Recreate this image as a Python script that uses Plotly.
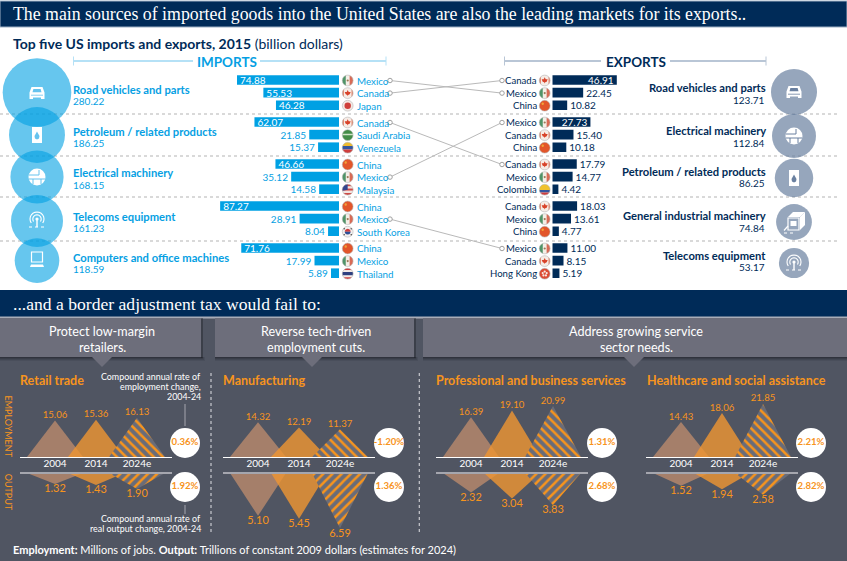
import math
import plotly.graph_objects as go

W, H = 847, 561
SANS = "Lato"
SERIF = "Liberation Serif"
NAVY = "#002b58"
SKY = "#069fe3"
ORANGE = "#f7941d"
SLATE = "#6a80a0"

# ---------- data ----------
IMPORT_CATEGORIES = ["Road vehicles and parts", "Petroleum / related products", "Electrical machinery",
                     "Telecoms equipment", "Computers and office machines"]
IMPORT_TOTALS = [280.22, 186.25, 168.15, 161.23, 118.59]
IMPORT_COUNTRIES = [["Mexico", "Canada", "Japan"], ["Canada", "Saudi Arabia", "Venezuela"],
                    ["China", "Mexico", "Malaysia"], ["China", "Mexico", "South Korea"],
                    ["China", "Mexico", "Thailand"]]
IMPORT_VALUES = [[74.88, 55.53, 46.28], [62.07, 21.85, 15.37], [46.66, 35.12, 14.58],
                 [87.27, 28.91, 8.04], [71.76, 17.99, 5.89]]

EXPORT_CATEGORIES = ["Road vehicles and parts", "Electrical machinery", "Petroleum / related products",
                     "General industrial machinery", "Telecoms equipment"]
EXPORT_TOTALS = [123.71, 112.84, 86.25, 74.84, 53.17]
EXPORT_COUNTRIES = [["Canada", "Mexico", "China"], ["Mexico", "Canada", "China"],
                    ["Canada", "Mexico", "Colombia"], ["Canada", "Mexico", "China"],
                    ["Mexico", "Canada", "Hong Kong"]]
EXPORT_VALUES = [[46.91, 22.45, 10.82], [27.73, 15.40, 10.18], [17.79, 14.77, 4.42],
                 [18.03, 13.61, 4.77], [11.00, 8.15, 5.19]]

# (import group, row) -> (export group, row)
LINKS = [((0, 0), (0, 1)), ((0, 1), (0, 0)), ((1, 0), (2, 0)), ((2, 1), (1, 0)), ((3, 1), (4, 0))]

YEARS = ["2004", "2014", "2024e"]
SECTORS = ["Retail trade", "Manufacturing", "Professional and business services", "Healthcare and social assistance"]
EMPLOYMENT = [[15.06, 15.36, 16.13], [14.32, 12.19, 11.37], [16.39, 19.10, 20.99], [14.43, 18.06, 21.85]]
OUTPUT = [[1.32, 1.43, 1.90], [5.10, 5.45, 6.59], [2.32, 3.04, 3.83], [1.52, 1.94, 2.58]]
EMP_RATE = ["0.36%", "-1.20%", "1.31%", "2.21%"]
OUT_RATE = ["1.92%", "1.36%", "2.68%", "2.82%"]

# ---------- layout helpers ----------
annotations, shapes, traces = [], [], []


def px(x):
    return x / W


def py(y):
    return 1 - y / H


def txt(x, y, s, size=11, color="white", anchor="left", family=SANS, angle=0):
    annotations.append(dict(x=px(x), y=py(y), xref="paper", yref="paper", text=s, showarrow=False,
                            xanchor=anchor, yanchor="middle", align=anchor, borderpad=0, borderwidth=0,
                            textangle=angle, font=dict(family=family, size=size, color=color)))


def rect(x0, y0, x1, y1, fill, line=None, layer="below"):
    shapes.append(dict(type="rect", xref="paper", yref="paper", x0=px(x0), x1=px(x1), y0=py(y0), y1=py(y1),
                       fillcolor=fill, line=dict(width=1 if line else 0, color=line or fill), layer=layer))


def seg(x0, y0, x1, y1, color, width=1, dash=None, layer="above"):
    shapes.append(dict(type="line", xref="paper", yref="paper", x0=px(x0), x1=px(x1), y0=py(y0), y1=py(y1),
                       line=dict(color=color, width=width, dash=dash), layer=layer))


def poly(pts, fill, line=None, lw=1, close=True, layer="above"):
    p = "M" + "L".join(f"{px(a):.5f},{py(b):.5f}" for a, b in pts) + ("Z" if close else "")
    shapes.append(dict(type="path", xref="paper", yref="paper", path=p, fillcolor=fill,
                       line=dict(width=lw if line else 0, color=line or "rgba(0,0,0,0)"), layer=layer))


def circ(cx, cy, r, fill, line=None, lw=0.7):
    shapes.append(dict(type="circle", xref="paper", yref="paper", x0=px(cx - r), x1=px(cx + r),
                       y0=py(cy - r), y1=py(cy + r), fillcolor=fill,
                       line=dict(width=lw if line else 0, color=line or "rgba(0,0,0,0)"), layer="above"))


def arc_pts(cx, cy, r, a0, a1, n=14):
    return [(cx + r * math.cos(math.radians(a0 + (a1 - a0) * i / n)),
             cy - r * math.sin(math.radians(a0 + (a1 - a0) * i / n))) for i in range(n + 1)]


def band(cx, cy, r, a, b, fill, vertical=False):
    ts = [a + (b - a) * i / 8 for i in range(9)]
    right = [(r * math.sqrt(max(0, 1 - t * t)), r * t) for t in ts]
    left = [(-q, v) for q, v in reversed(right)]
    pts = right + left
    if vertical:
        pts = [(cx + v, cy + u) for u, v in pts]
    else:
        pts = [(cx + u, cy + v) for u, v in pts]
    poly(pts, fill)


def flag(name, cx, cy, r=5.4):
    def h(*bs):
        for a, b, c in bs:
            band(cx, cy, r, a, b, c)
    if name == "Mexico":
        circ(cx, cy, r, "#f4efe8")
        band(cx, cy, r, -1, -0.36, "#4f9468", True)
        band(cx, cy, r, 0.36, 1, "#d86a55", True)
        circ(cx, cy, 1.1, "#9a7a55")
    elif name == "Canada":
        circ(cx, cy, r, "#f6ece6")
        band(cx, cy, r, -1, -0.7, "#e3866d", True)
        band(cx, cy, r, 0.7, 1, "#e3866d", True)
        poly([(cx, cy - 3.2), (cx + 1, cy - 1.2), (cx + 3, cy - 1.2), (cx + 2, cy + 1.2), (cx + 0.5, cy + 1.8),
              (cx, cy + 3), (cx - 0.5, cy + 1.8), (cx - 2, cy + 1.2), (cx - 3, cy - 1.2), (cx - 1, cy - 1.2)],
             "#d8432a")
    elif name == "China":
        circ(cx, cy, r, "#e2562b")
        circ(cx - 2, cy - 2, 1.2, "#f1a33a")
    elif name == "Japan":
        circ(cx, cy, r, "#f3e7e2")
        circ(cx, cy, 3.2, "#cf3f3a")
    elif name == "Saudi Arabia":
        circ(cx, cy, r, "#438c47")
        band(cx, cy, r, -0.25, 0.05, "#cfe2c6")
    elif name == "Venezuela":
        h((-1, -0.33, "#eebc30"), (-0.33, 0.33, "#34569f"), (0.33, 1, "#cf3d3c"))
    elif name == "Colombia":
        h((-1, 0.05, "#f0c22e"), (0.05, 0.52, "#34569f"), (0.52, 1, "#cf3d3c"))
    elif name == "Malaysia":
        h((-1, -0.6, "#cf4a45"), (-0.6, -0.2, "#f0e4e0"), (-0.2, 0.2, "#cf4a45"), (0.2, 0.6, "#f0e4e0"),
          (0.6, 1, "#cf4a45"))
        poly(arc_pts(cx, cy, r, 90, 190) + [(cx, cy)], "#34468f")
    elif name == "South Korea":
        circ(cx, cy, r, "#f3efee")
        band(cx, cy, 2.9, -1, 0, "#cf3d3c")
        band(cx, cy, 2.9, 0, 1, "#2e4f95")
        for dx, dy in [(-3.6, -3), (3.6, -3), (-3.6, 3), (3.6, 3)]:
            circ(cx + dx, cy + dy, 0.8, "#333333")
    elif name == "Thailand":
        h((-1, -0.66, "#cf3d3c"), (-0.66, -0.33, "#f2e9e6"), (-0.33, 0.33, "#2e3f7f"), (0.33, 0.66, "#f2e9e6"),
          (0.66, 1, "#cf3d3c"))
    elif name == "Hong Kong":
        circ(cx, cy, r, "#dc4a33")
        for k in range(5):
            a = math.radians(90 + 72 * k)
            circ(cx + 2.1 * math.cos(a), cy - 2.1 * math.sin(a), 1.1, "#f8e9e2")
    circ(cx, cy, r, "rgba(0,0,0,0)", "#b5b5b5", 0.6)


def icon_car(cx, cy, bg):
    poly([(cx - 7.5, cy + 6), (cx - 7.5, cy - 0.5), (cx - 5.5, cy - 6), (cx + 5.5, cy - 6), (cx + 7.5, cy - 0.5),
          (cx + 7.5, cy + 6), (cx + 4, cy + 6), (cx + 4, cy + 4.5), (cx - 4, cy + 4.5), (cx - 4, cy + 6)], "white")
    poly([(cx - 4.5, cy - 0.8), (cx - 3.6, cy - 4), (cx + 3.6, cy - 4), (cx + 4.5, cy - 0.8)], bg)
    seg(cx - 6, cy + 2.2, cx + 6, cy + 2.2, bg, 0.8)


def icon_barrel(cx, cy, bg):
    poly([(cx - 5, cy - 8), (cx + 5, cy - 8), (cx + 5, cy + 8), (cx - 5, cy + 8)], "white")
    poly([(cx, cy - 3.5), (cx + 2.5, cy + 1), (cx + 2, cy + 3.5), (cx, cy + 4.5), (cx - 2, cy + 3.5), (cx - 2.5, cy + 1)], bg)


def icon_globe(cx, cy, bg):
    circ(cx, cy, 8.5, "white")
    seg(cx - 8, cy - 2, cx + 2, cy - 2, bg, 1)
    seg(cx - 8, cy + 2, cx + 8, cy + 2, bg, 1)
    seg(cx + 2, cy - 7, cx + 2, cy - 2, bg, 1)
    seg(cx - 4, cy + 2, cx - 4, cy + 7, bg, 1)
    seg(cx + 4, cy + 2, cx + 4, cy + 7, bg, 1)


def icon_antenna(cx, cy):
    for r in (7, 4.2):
        poly(arc_pts(cx, cy - 1, r, -35, 215), "rgba(0,0,0,0)", "white", 1.1, close=False)
    circ(cx, cy - 1, 1.6, "white")
    seg(cx, cy, cx, cy + 7, "white", 1.4)
    seg(cx - 8, cy + 7, cx + 8, cy + 7, "white", 1, "dot")


def icon_computer(cx, cy):
    poly([(cx - 5.5, cy - 8), (cx + 5.5, cy - 8), (cx + 5.5, cy + 2), (cx - 5.5, cy + 2)], "rgba(0,0,0,0)", "white", 1.2)
    poly([(cx - 6, cy + 4.5), (cx + 6, cy + 4.5), (cx + 7, cy + 7), (cx - 7, cy + 7)], "white")


def icon_machine(cx, cy, bg):
    poly([(cx - 6, cy - 5), (cx - 1, cy - 10), (cx + 11, cy - 10), (cx + 6, cy - 5)], "white")
    poly([(cx + 6, cy - 5), (cx + 11, cy - 10), (cx + 11, cy + 3), (cx + 6, cy + 8)], "white")
    poly([(cx - 6, cy - 4), (cx + 5, cy - 4), (cx + 5, cy + 8), (cx - 6, cy + 8)], "rgba(0,0,0,0)", "white", 1.2)
    poly([(cx - 3.5, cy - 1), (cx + 2.5, cy - 1), (cx + 2.5, cy + 4), (cx - 3.5, cy + 4)], "white")
    seg(cx - 10, cy + 8.5, cx - 6, cy + 4, "white", 1.2)
    seg(cx - 10, cy + 11, cx + 1, cy + 11, "white", 1.2, "dot")


# ---------- static blocks ----------
rect(0, 1, W, 27, NAVY, "#9db0c4")
rect(0, 290, W, 317, NAVY)
rect(0, 317, W, 561, "#505562")
rect(0, 316.5, W, 318.5, "#a9adb8")

txt(13, 14, "The main sources of imported goods into the United States are also the leading markets for its exports..",
    17.8, "white", family=SERIF)
txt(13, 303.5, "...and a border adjustment tax would fail to:", 17.6, "white", family=SERIF)
txt(13, 43.5, "<b>Top five US imports and exports, 2015</b> (billion dollars)", 14, NAVY)

# bracket headers
for x0, x1, gap0, gap1, col, label, lc in [(73.5, 386, 193, 260, SKY, "IMPORTS", "#b5e1f6"),
                                           (504.5, 766, 601, 670, NAVY, "EXPORTS", "#b9c6d6")]:
    seg(x0, 61, gap0, 61, lc, 2)
    seg(gap1, 61, x1, 61, lc, 2)
    seg(x0, 56.5, x0, 65.5, lc, 1)
    seg(x1, 56.5, x1, 65.5, lc, 1)
    txt((gap0 + gap1) / 2, 62, f"<b>{label}</b>", 13.5, col, "center")

# dotted row separators
for y in (114, 156, 197, 241):
    seg(0, y, 838, y, "#b3b3b3", 1.2, "dot", layer="below")


def row_y(g, r):
    return 80 + 42 * g + 12.6 * r


# ---------- bars ----------
IMP_SCALE, EXP_SCALE = 1.362, 1.375
BAR_IMP_X, BAR_EXP_X = 339, 552.3
imp_x, imp_y, imp_t = [], [], []
exp_x, exp_y, exp_t = [], [], []
for g in range(5):
    for r in range(3):
        imp_x.append(IMPORT_VALUES[g][r])
        imp_y.append(row_y(g, r))
        imp_t.append(f"{IMPORT_VALUES[g][r]:.2f}")
        exp_x.append(EXPORT_VALUES[g][r])
        exp_y.append(row_y(g, r))
        exp_t.append(f"{EXPORT_VALUES[g][r]:.2f}")

traces.append(go.Bar(x=imp_x, y=imp_y, orientation="h", width=9.6, marker=dict(color="#00a0e3", line=dict(width=0)),
                     text=imp_t, textangle=0, constraintext="none", cliponaxis=False,
                     textposition=["inside" if v > 40 else "outside" for v in imp_x], insidetextanchor="end",
                     insidetextfont=dict(family=SANS, size=10, color="white"),
                     outsidetextfont=dict(family=SANS, size=10, color=SKY), xaxis="x2", yaxis="y", hoverinfo="skip"))
traces.append(go.Bar(x=exp_x, y=exp_y, orientation="h", width=9.6, marker=dict(color=NAVY, line=dict(width=0)),
                     text=exp_t, textangle=0, constraintext="none", cliponaxis=False,
                     textposition=["inside" if v > 25 else "outside" for v in exp_x], insidetextanchor="end",
                     insidetextfont=dict(family=SANS, size=10, color="white"),
                     outsidetextfont=dict(family=SANS, size=10, color=NAVY), xaxis="x3", yaxis="y", hoverinfo="skip"))

# country labels and flags
for g in range(5):
    for r in range(3):
        y = row_y(g, r)
        txt(356.5, y + 0.5, IMPORT_COUNTRIES[g][r], 9.8, SKY)
        flag(IMPORT_COUNTRIES[g][r], 347.7, y + 0.5)
        txt(537, y + 0.5, EXPORT_COUNTRIES[g][r], 9.6, NAVY, "right")
        flag(EXPORT_COUNTRIES[g][r], 544.7, y + 0.5)

# connectors
for (ig, ir), (eg, er) in LINKS:
    traces.append(go.Scatter(x=[390, 502], y=[row_y(ig, ir) + 0.5, row_y(eg, er) + 0.5], mode="lines+markers",
                             line=dict(color="#b9b9b9", width=1),
                             marker=dict(size=4.5, color="white", line=dict(color="#a0a0a0", width=1)),
                             xaxis="x", yaxis="y", hoverinfo="skip"))

# bubbles sized from the totals
IMP_Y = [92.5, 135, 177, 221, 260.6]
EXP_Y = [92, 136, 178, 222, 263]
traces.append(go.Scatter(x=[37] * 5, y=IMP_Y, mode="markers", xaxis="x", yaxis="y", hoverinfo="skip",
                         marker=dict(size=[4.1 * math.sqrt(v) for v in IMPORT_TOTALS], color="#00a0e3", opacity=0.6,
                                     line=dict(width=0))))
traces.append(go.Scatter(x=[794] * 5, y=EXP_Y, mode="markers", xaxis="x", yaxis="y", hoverinfo="skip",
                         marker=dict(size=[4.14 * math.sqrt(v) for v in EXPORT_TOTALS], color=SLATE,
                                     line=dict(width=0))))

LBL_IMP = [(89, 101), (131, 142.5), (173, 185), (216, 227.5), (257, 269)]
LBL_EXP = [(87.5, 99.5), (130.5, 142.5), (171, 183), (215.5, 227.5), (255.5, 267)]
for i in range(5):
    txt(73, LBL_IMP[i][0], f"<b>{IMPORT_CATEGORIES[i]}</b>", 11.2, SKY)
    txt(73, LBL_IMP[i][1], f"{IMPORT_TOTALS[i]:.2f}", 10, SKY)
    txt(766, LBL_EXP[i][0], f"<b>{EXPORT_CATEGORIES[i]}</b>", 11.2, NAVY, "right")
    txt(765, LBL_EXP[i][1], f"{EXPORT_TOTALS[i]:.2f}", 10, NAVY, "right")

icon_car(37, 93, "#66c3ee")
icon_barrel(37, 135, "#66c3ee")
icon_globe(37, 177, "#66c3ee")
icon_antenna(37, 220)
icon_computer(37, 260)
icon_car(794, 92, SLATE)
icon_globe(794, 136, SLATE)
icon_barrel(794, 178, SLATE)
icon_machine(794, 222, SLATE)
icon_antenna(794, 263)

# ---------- callouts ----------
for x0, x1, tip, l1, l2 in [(0, 201, 102, "Protect low-margin", "retailers."),
                            (215, 414, 312, "Reverse tech-driven", "employment cuts."),
                            (423, 847, 634, "Address growing service", "sector needs.")]:
    for k, a in enumerate((0.10, 0.14, 0.18, 0.24)):
        rect(x0 + 0 * k, 357, min(x1 + 4 - k, W), 361 - k, f"rgba(20,22,30,{a})")
    rect(x1, 318, min(x1 + 2, W), 358, "rgba(20,22,30,0.35)")
    rect(x0, 318, x1, 357, "#6d6e7b")
    poly([(tip - 10, 357), (tip + 10, 357), (tip, 367)], "#6d6e7b", layer="below")
    txt((x0 + x1) / 2 + (1 if x0 else 1.5), 331, f"{l1}", 12.6, "white", "center")
    txt((x0 + x1) / 2 + (1 if x0 else 1.5), 347, f"{l2}", 12.6, "white", "center")

# ---------- triangle panels ----------
EMP_PX, OUT_PX = 2.43, 8.4
PANEL_LEFT = [20, 223, 436, 646]
TITLE_X = [20, 223, 435.5, 646.5]
RATE_X = [185, 389, 602, 811]
STEP, HALF, OFFSET, SPAN = 41, 28, 35, 152
layout_axes = {}
TRI_STYLE = [dict(fillcolor="rgba(210,150,110,0.65)"), dict(fillcolor="rgba(240,150,50,0.8)")]

for p in range(4):
    ax_x = 4 + p
    ax_e = 2 + 2 * p
    ax_o = 3 + 2 * p
    left = PANEL_LEFT[p]
    layout_axes[f"xaxis{ax_x}"] = dict(domain=[px(left), px(left + SPAN)], range=[-OFFSET / STEP, (SPAN - OFFSET) / STEP],
                                       anchor=f"y{ax_e}", showgrid=False, zeroline=False, showline=True,
                                       linecolor="white", linewidth=1, tickvals=[0, 1, 2], ticktext=YEARS, ticks="",
                                       ticklabelstandoff=-3,
                                       tickfont=dict(family=SANS, size=10, color="white"), fixedrange=True)
    layout_axes[f"yaxis{ax_e}"] = dict(domain=[py(457), py(360)], range=[0, 97 / EMP_PX], anchor=f"x{ax_x}", visible=False)
    layout_axes[f"yaxis{ax_o}"] = dict(domain=[py(540), py(473)], range=[67 / OUT_PX, 0], anchor=f"x{ax_x}", visible=False)
    for series, ya, shape, pos, size in [(EMPLOYMENT[p], ax_e, "\\", "top center", 9.6),
                                         (OUTPUT[p], ax_o, "/", "bottom center", 11)]:
        for i, v in enumerate(series):
            hw = HALF / STEP
            kw = dict(x=[i - hw, i, i + hw], y=[0, v, 0], mode="lines", line=dict(width=0), fill="toself",
                      xaxis=f"x{ax_x}", yaxis=f"y{ya}", hoverinfo="skip", cliponaxis=False)
            if i < 2:
                traces.append(go.Scatter(**kw, **TRI_STYLE[i]))
            else:
                traces.append(go.Scatter(**kw, fillcolor="#696c79",
                                         fillpattern=dict(shape=shape, fgcolor=ORANGE, bgcolor="#696c79", size=6.5,
                                                          solidity=0.38, fillmode="replace")))
        traces.append(go.Scatter(x=[0, 1, 2], y=series, mode="text", text=[f"{v:.2f}" for v in series], textposition=pos,
                                 textfont=dict(family=SANS, size=size, color=ORANGE), cliponaxis=False,
                                 xaxis=f"x{ax_x}", yaxis=f"y{ya}", hoverinfo="skip"))
    seg(left, 473, left + SPAN, 473, "#a5a6ae", 1.8)
    txt(TITLE_X[p], 380.7, f"<b>{SECTORS[p]}</b>", 12.5, ORANGE)

traces.append(go.Scatter(x=RATE_X, y=[443] * 4, mode="markers+text", text=[f"<b>{s}</b>" for s in EMP_RATE],
                         textposition="middle center", textfont=dict(family=SANS, size=9.6, color=ORANGE),
                         marker=dict(size=30, color="white", line=dict(width=0)), xaxis="x", yaxis="y", hoverinfo="skip"))
traces.append(go.Scatter(x=RATE_X, y=[487] * 4, mode="markers+text", text=[f"<b>{s}</b>" for s in OUT_RATE],
                         textposition="middle center", textfont=dict(family=SANS, size=9.6, color=ORANGE),
                         marker=dict(size=30, color="white", line=dict(width=0)), xaxis="x", yaxis="y", hoverinfo="skip"))

txt(8, 426.5, "EMPLOYMENT", 9, ORANGE, "center", angle=90)
txt(8, 491.7, "OUTPUT", 9, ORANGE, "center", angle=90)
seg(185, 404, 185, 426, "#a5a6ae", 1)
seg(185, 505, 185, 514, "#a5a6ae", 1)
for y, s in [(376.5, "Compound annual rate of"), (386.7, "employment change,"), (396.8, "2004-24"),
             (518, "Compound annual rate of"), (528.2, "real output change, 2004-24")]:
    txt(201, y, s, 8.9, "white", "right")
seg(211, 373, 211, 533, "#c9cad0", 1.2, "dot")
seg(419.3, 373, 419.3, 533, "#c9cad0", 1.2, "dot")
txt(13, 549, "<b>Employment:</b> Millions of jobs. <b>Output:</b> Trillions of constant 2009 dollars (estimates for 2024)",
    11, "white")

fig = go.Figure(traces)
fig.update_layout(
    width=W, height=H, margin=dict(l=0, r=0, t=0, b=0), showlegend=False, autosize=False,
    paper_bgcolor="white", plot_bgcolor="rgba(0,0,0,0)", barmode="overlay",
    annotations=annotations, shapes=shapes,
    xaxis=dict(domain=[0, 1], range=[0, W], visible=False, fixedrange=True, anchor="y"),
    yaxis=dict(domain=[0, 1], range=[H, 0], visible=False, fixedrange=True, anchor="x"),
    xaxis2=dict(domain=[0, px(BAR_IMP_X)], range=[BAR_IMP_X / IMP_SCALE, 0], visible=False, anchor="y"),
    xaxis3=dict(domain=[px(BAR_EXP_X), 1], range=[0, (W - BAR_EXP_X) / EXP_SCALE], visible=False, anchor="y"),
    **layout_axes,
)
fig.write_html("out.html", config=dict(displayModeBar=False),
               post_script="document.body.style.margin='0';document.body.style.overflow='hidden';")
